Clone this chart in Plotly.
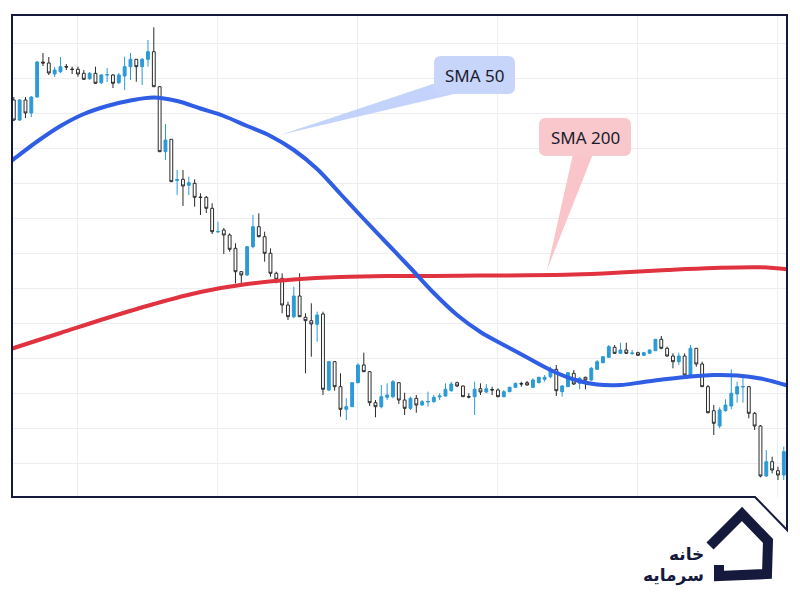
import plotly.graph_objects as go

# ---------------- data ----------------
idx = list(range(133))

opens = [433, 413, 433, 420, 436, 471, 470, 459, 461.3, 466.5,
         464, 463.7, 459.7, 454.3, 459.7, 450.3, 458, 458, 450.3, 457,
         466.3, 473.7, 466.3, 473.7, 481.3, 446.3, 381.3, 393.7, 352.5, 353.7,
         347.7, 349.7, 336, 335.7, 324.7, 301, 303, 298, 284.7, 261.3,
         258, 286.3, 306.3, 296.3, 279.7, 259.7, 254.7, 228, 216.3, 237,
         215.7, 212.3, 208.7, 219, 143, 171.3, 146.3, 123.7, 126.3, 150.3,
         168, 161.3, 130.3, 126.3, 135.7, 136.3, 150.3, 133, 124.7, 134.7,
         128, 131, 131.3, 136, 137, 142.3, 150.3, 147, 136.5, 136.3,
         144.3, 141, 143.5, 143, 136.3, 141.3, 145.7, 149.5, 150.3, 145.7,
         150.3, 153.7, 156.3, 163.7, 141.3, 146.3, 159.7, 149.7, 155.7, 153,
         163.7, 170.3, 175.7, 185.7, 179.7, 183, 179.5, 180.3, 177.7, 179.7,
         182.3, 193.7, 184.7, 177, 171.3, 177, 158, 184.7, 169, 146.3,
         122.3, 107, 122.3, 127, 139, 146, 146.3, 119.7, 107, 57,
         71.3, 62.3, 58]

highs = [436, 434, 436, 437, 472, 480, 476, 466, 476, 469,
         466.3, 466.3, 463, 461, 466.3, 459, 465, 459, 460, 476.3,
         480, 474, 475, 493, 505.7, 447, 409, 394, 363, 363,
         356.3, 353.7, 339.7, 337, 329.7, 311.3, 305, 299.7, 289.7, 262,
         287, 318, 319.7, 301.3, 284.7, 261.3, 259.7, 231.3, 246.3, 259.7,
         219.7, 229.7, 221.3, 221.3, 172, 172, 159.7, 134.7, 151, 169.7,
         180.3, 162, 133, 148, 149.7, 153, 151, 140.3, 136.3, 138,
         133, 141.3, 138, 139.7, 149.7, 151.3, 151.3, 147.5, 139.7, 151.3,
         149.7, 149, 146.3, 144.7, 143, 146.3, 150.3, 151.3, 152, 154.7,
         156.3, 158, 166.3, 168, 148, 161, 163, 156, 156.3, 166,
         173, 177, 188, 188, 190.3, 190.3, 183, 181.3, 181, 183.7,
         194, 197, 186.3, 179.7, 180.3, 179.7, 188, 185, 171.3, 148,
         128, 125.7, 133.7, 163.7, 151.3, 155.7, 147, 121, 108, 83,
         76.3, 66.3, 86.3]

lows = [412, 412, 415, 416, 435.5, 467, 458, 456, 460, 463,
        459, 456.3, 453, 453, 449, 449, 451, 445, 449, 443,
        453, 451.3, 448, 466.3, 446.3, 381, 373, 351, 338, 327,
        338, 326.3, 318, 320, 299, 300.3, 279, 281.3, 249.7, 249.7,
        257, 284.7, 295.7, 271.3, 256.3, 249.7, 219.7, 213, 214.7, 216,
        159.7, 176.3, 191.3, 138, 142, 142.3, 116.3, 113, 126, 149.7,
        161, 127, 115.7, 124.7, 133, 134.7, 129, 118, 123, 120.3,
        127, 126.3, 130.3, 133, 136.3, 141.3, 146, 136, 134.7, 118,
        138, 139.7, 138, 135.7, 135.7, 141, 145, 146.3, 147.5, 145,
        149.7, 151.3, 154.7, 137, 136.3, 146, 148, 143.7, 143.7, 152,
        163, 169.7, 175, 179, 179, 179, 178, 177, 177, 179,
        182, 183.7, 176.3, 164.7, 168, 157, 157, 166.3, 146, 119.7,
        98, 104.7, 121.3, 123.7, 130.3, 130.3, 114.7, 103, 55.7, 56.3,
        59.7, 53, 53]

closes = [413, 433, 420, 436, 471, 470, 460, 463, 466.3, 466,
          463.5, 459, 453.7, 459.7, 449.7, 458, 458.3, 449.7, 458, 466.3,
          473.7, 466.3, 473.7, 481.3, 446.3, 381.3, 393, 351.3, 353.5, 347,
          350.3, 335.7, 335.5, 324.7, 301.3, 301.5, 298, 283.7, 261.3, 258,
          286.3, 306.3, 296.3, 279.7, 259.7, 253.7, 228, 216.3, 237, 216.3,
          212.3, 209, 218, 143.7, 171.3, 146.3, 123.7, 126.3, 150.3, 168,
          161.3, 130.3, 126.3, 136.3, 138, 151.3, 133, 124.7, 134.7, 128,
          131.3, 131.5, 135.7, 137, 143.7, 149, 147, 136.3, 136, 143.7,
          141, 144.3, 143, 136.3, 141.3, 145.7, 149.7, 149, 148, 153,
          155.7, 155.7, 163.7, 142.3, 147, 160.3, 149, 154.7, 153, 164.7,
          171.3, 176.3, 186.3, 179.7, 183, 179.7, 180, 177.7, 180.3, 183,
          193.7, 184.7, 177, 171.3, 177, 158, 184.7, 169, 146.3, 120.3,
          109.7, 123, 128, 139.7, 146.3, 146.5, 119.7, 107, 57, 71.3,
          63, 58, 81.3]

sma50_x = [-1, 0, 4, 8, 12, 16, 20, 24, 28, 32, 36, 40, 44, 48, 52, 56, 60, 64,
           68, 72, 76, 80, 84, 88, 92, 96, 100, 104, 108, 112, 116, 120, 124,
           128, 132, 133]
sma50_y = [370, 374, 391.5, 407, 419, 427, 432.5, 435.5, 432, 424.5, 417, 407,
           397, 383, 364, 339, 314, 289.5, 265, 240, 218, 201, 188, 175.5,
           163, 153.5, 148.5, 148, 151, 154, 156.5, 158, 157.5, 154.5, 148.5, 147]

sma200_x = [-1, 0, 8, 16, 24, 32, 40, 48, 56, 64, 72, 80, 88, 96, 104, 112,
            120, 128, 133]
sma200_y = [183, 185, 200, 215, 229, 241, 249, 253.5, 256, 257, 257, 257.5,
            257.7, 258.5, 260.5, 263, 265, 265.7, 263.5]

label_sma50 = "SMA 50"
label_sma200 = "SMA 200"
logo_line1 = "خانه"
logo_line2 = "سرمایه"

# ---------------- layout helpers ----------------
W, H = 800, 600
ML, MR, MT, MB = 12, 13, 15, 103
PW, PH = W - ML - MR, H - MT - MB


def P(x, y):
    return (x - ML) / PW, (H - MB - y) / PH


def poly(points, close=True):
    s = ""
    for k, (x, y) in enumerate(points):
        px, py = P(x, y)
        s += ("M" if k == 0 else "L") + f"{px:.5f},{py:.5f} "
    return s + ("Z" if close else "")


def rrect(x0, y0, x1, y1, r):
    def p(x, y):
        a, b = P(x, y)
        return f"{a:.5f},{b:.5f}"
    return (f"M{p(x0 + r, y0)} L{p(x1 - r, y0)} Q{p(x1, y0)} {p(x1, y0 + r)} "
            f"L{p(x1, y1 - r)} Q{p(x1, y1)} {p(x1 - r, y1)} L{p(x0 + r, y1)} "
            f"Q{p(x0, y1)} {p(x0, y1 - r)} L{p(x0, y0 + r)} Q{p(x0, y0)} {p(x0 + r, y0)} Z")


NAVY = "#151a3c"
UP = "#2b9ad6"

fig = go.Figure()
fig.add_trace(go.Scatter(x=sma200_x, y=sma200_y, mode="lines",
                         line=dict(color="#e0323f", width=4, shape="spline", smoothing=1),
                         hoverinfo="skip"))
fig.add_trace(go.Scatter(x=sma50_x, y=sma50_y, mode="lines",
                         line=dict(color="#2f5de3", width=4, shape="spline", smoothing=1),
                         hoverinfo="skip"))
fig.add_trace(go.Candlestick(
    x=idx, open=opens, high=highs, low=lows, close=closes,
    increasing=dict(line=dict(color=UP, width=1), fillcolor=UP),
    decreasing=dict(line=dict(color="#2a2a2a", width=1), fillcolor="#ffffff"),
    whiskerwidth=0,
))

shapes = []
# callout pointers
shapes.append(dict(type="path", xref="paper", yref="paper", layer="above",
                   path=poly([(436, 83), (454, 94), (280, 135)]),
                   fillcolor="rgba(185,203,250,0.85)", line=dict(width=0)))
shapes.append(dict(type="path", xref="paper", yref="paper", layer="above",
                   path=poly([(573, 154), (593, 154), (547, 270)]),
                   fillcolor="rgba(248,190,196,0.9)", line=dict(width=0)))
# callout boxes
shapes.append(dict(type="path", xref="paper", yref="paper", layer="above",
                   path=rrect(434, 56, 515, 94, 7),
                   fillcolor="#c7d5fb", line=dict(width=0)))
shapes.append(dict(type="path", xref="paper", yref="paper", layer="above",
                   path=rrect(539, 118, 631, 156, 7),
                   fillcolor="#f8c8cd", line=dict(width=0)))
# frame with cut corner
shapes.append(dict(type="path", xref="paper", yref="paper", layer="above",
                   path=poly([(12, 15), (787, 15), (787, 530), (755, 497), (12, 497)]),
                   line=dict(color=NAVY, width=2)))
# logo mark
shapes.append(dict(type="path", xref="paper", yref="paper", layer="above",
                   path=poly([(710, 546), (742, 514), (768, 541), (767, 574), (719, 576), (719, 565)], close=False),
                   line=dict(color=NAVY, width=10)))

annotations = [
    dict(x=P(474.5, 75)[0], y=P(474.5, 75)[1], xref="paper", yref="paper",
         text=label_sma50, showarrow=False, xanchor="center", yanchor="middle",
         font=dict(family="Noto Sans", size=17, color="#1b1b2b")),
    dict(x=P(585, 137)[0], y=P(585, 137)[1], xref="paper", yref="paper",
         text=label_sma200, showarrow=False, xanchor="center", yanchor="middle",
         font=dict(family="Noto Sans", size=17, color="#1b1b2b")),
    dict(x=P(706, 554)[0], y=P(706, 554)[1], xref="paper", yref="paper",
         text="<b>" + logo_line1 + "</b>", showarrow=False, xanchor="right", yanchor="middle",
         font=dict(family="DejaVu Sans", size=17, color=NAVY)),
    dict(x=P(706, 575)[0], y=P(706, 575)[1], xref="paper", yref="paper",
         text="<b>" + logo_line2 + "</b>", showarrow=False, xanchor="right", yanchor="middle",
         font=dict(family="DejaVu Sans", size=17, color=NAVY)),
]

fig.update_layout(
    width=W, height=H,
    margin=dict(l=ML, r=MR, t=MT, b=MB, pad=0),
    paper_bgcolor="white", plot_bgcolor="white",
    showlegend=False,
    shapes=shapes, annotations=annotations,
    xaxis=dict(range=[-0.31, 132.55], tickmode="linear", tick0=11, dtick=24,
               showgrid=True, gridcolor="#eeeef2", gridwidth=1,
               showticklabels=False, ticks="", zeroline=False, showline=False,
               rangeslider=dict(visible=False), fixedrange=True),
    yaxis=dict(range=[36, 518], tickmode="linear", tick0=0, dtick=35,
               showgrid=True, gridcolor="#eeeef2", gridwidth=1,
               showticklabels=False, ticks="", zeroline=False, showline=False,
               fixedrange=True),
)

fig.write_html("out.html")
